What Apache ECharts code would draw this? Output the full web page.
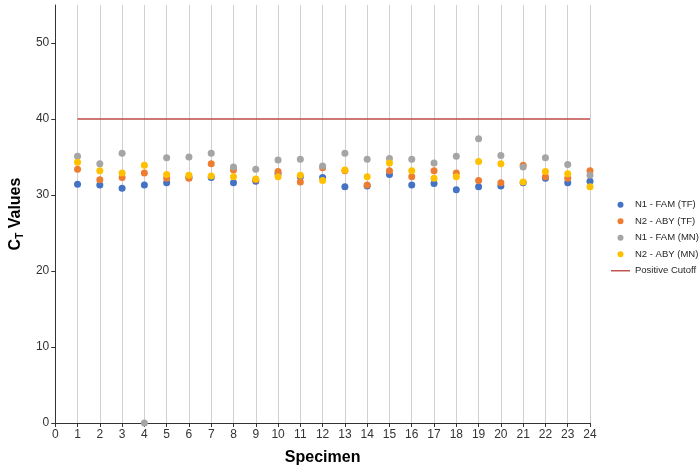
<!DOCTYPE html>
<html>
<head>
<meta charset="utf-8">
<script src="https://cdn.jsdelivr.net/npm/echarts@6/dist/echarts.min.js"></script>
<style>
    html, body { margin: 0; padding: 0; background: #fff; }
    #chart { width: 699px; height: 471px; }
</style>
</head>
<body>
<div id="chart"></div>
<script>
// 数据
const specimens = [1, 2, 3, 4, 5, 6, 7, 8, 9, 10, 11, 12, 13, 14, 15, 16, 17, 18, 19, 20, 21, 22, 23, 24];
const n1FamTF = [31.4, 31.3, 30.9, 31.3, 31.6, 32.3, 32.3, 31.6, 31.8, 32.8, 32.4, 32.3, 31.1, 31.2, 32.7, 31.3, 31.5, 30.7, 31.1, 31.2, 31.6, 32.2, 31.6, 31.8];
const n2AbyTF = [33.4, 32.0, 32.3, 32.9, 32.2, 32.2, 34.1, 33.3, 32.0, 33.1, 31.7, 33.6, 33.2, 31.3, 33.2, 32.4, 33.2, 32.9, 31.9, 31.6, 33.9, 32.4, 32.2, 33.2];
const n1FamMN = [35.1, 34.1, 35.5, 0, 34.9, 35.0, 35.5, 33.7, 33.4, 34.6, 34.7, 33.8, 35.5, 34.7, 34.8, 34.7, 34.2, 35.1, 37.4, 35.2, 33.7, 34.9, 34.0, 32.6];
const n2AbyMN = [34.3, 33.2, 32.9, 33.9, 32.7, 32.6, 32.5, 32.4, 32.1, 32.4, 32.6, 31.9, 33.3, 32.4, 34.2, 33.2, 32.2, 32.4, 34.4, 34.1, 31.7, 33.1, 32.8, 31.1];
const positiveCutoff = 40;
const yTickValues = [0, 10, 20, 30, 40, 50];

const font = "'Liberation Sans', Arial, sans-serif";
const cutoffColor = '#BE4B48';

// 组装散点数据
function pairs(values) {
    return specimens.map((s, i) => [s, values[i]]);
}

function dotSeries(name, values, color) {
    return {
        name: name,
        type: 'scatter',
        data: pairs(values),
        symbol: 'circle',
        symbolSize: 7,
        itemStyle: { color: color, opacity: 1 },
        silent: true
    };
}

let chart = echarts.init(document.getElementById('chart'));
let option = {
    animation: false,
    backgroundColor: '#fff',
    textStyle: { fontFamily: font },
    grid: { left: 42, top: 5, width: 548, height: 423, containLabel: false },
    legend: {
        orient: 'vertical',
        left: 611,
        top: 199,
        padding: 0,
        itemWidth: 19,
        itemHeight: 6,
        itemGap: 5,
        selectedMode: false,
        textStyle: { fontFamily: font, fontSize: 9.5, lineHeight: 11.5, color: '#262626' },
        data: [
            'N1 - FAM (TF)',
            'N2 - ABY (TF)',
            'N1 - FAM (MN)',
            'N2 - ABY (MN)',
            { name: 'Positive Cutoff', icon: 'path://M0,0H20V1.5H0Z', itemStyle: { color: cutoffColor } }
        ]
    },
    xAxis: {
        type: 'value',
        min: 0,
        max: 24,
        interval: 1,
        name: 'Specimen',
        nameLocation: 'middle',
        nameGap: 27,
        nameTextStyle: { fontFamily: font, fontSize: 16, fontWeight: 'bold', color: '#000' },
        axisLine: { onZero: false, lineStyle: { color: '#333', width: 1 } },
        axisTick: { show: true, length: 4, lineStyle: { color: '#333' } },
        axisLabel: { fontFamily: font, fontSize: 12, color: '#333', margin: 6 },
        splitLine: { show: true, lineStyle: { color: '#d0d0d0', width: 1 } }
    },
    yAxis: {
        type: 'value',
        min: 0,
        max: 55,
        interval: 10,
        name: '{c|C}{s|T}{c| Values}',
        nameLocation: 'middle',
        nameRotate: 90,
        nameGap: 22,
        nameTextStyle: {
            rich: {
                c: { fontFamily: font, fontSize: 16, fontWeight: 'bold', color: '#000' },
                s: { fontFamily: font, fontSize: 10, fontWeight: 'bold', color: '#000', verticalAlign: 'bottom', padding: [8, 0, 0, 0] }
            }
        },
        axisLine: { show: true, onZero: false, lineStyle: { color: '#333', width: 1 } },
        axisTick: { show: true, length: 4, customValues: yTickValues, lineStyle: { color: '#333' } },
        axisLabel: { fontFamily: font, fontSize: 12, color: '#333', margin: 6, customValues: yTickValues },
        splitLine: { show: false }
    },
    series: [
        dotSeries('N1 - FAM (TF)', n1FamTF, '#4472C4'),
        dotSeries('N2 - ABY (TF)', n2AbyTF, '#ED7D31'),
        dotSeries('N1 - FAM (MN)', n1FamMN, '#A5A5A5'),
        dotSeries('N2 - ABY (MN)', n2AbyMN, '#FFC000'),
        {
            name: 'Positive Cutoff',
            type: 'line',
            data: [[specimens[0], positiveCutoff], [specimens[specimens.length - 1], positiveCutoff]],
            symbol: 'none',
            showSymbol: false,
            lineStyle: { color: cutoffColor, width: 1.5 },
            itemStyle: { color: cutoffColor },
            silent: true,
            z: 1
        }
    ]
};
chart.setOption(option);
</script>
</body>
</html>
